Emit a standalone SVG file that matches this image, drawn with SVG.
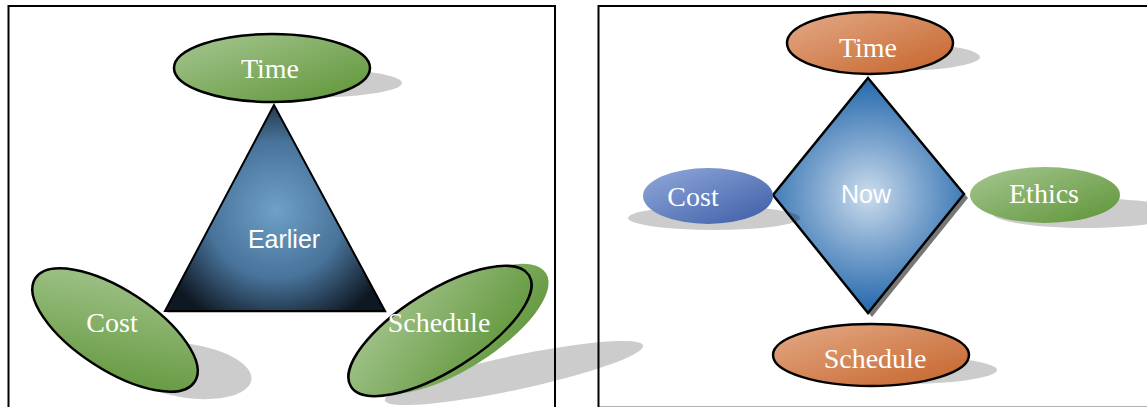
<svg xmlns="http://www.w3.org/2000/svg" width="1147" height="407" viewBox="0 0 1147 407">
<defs>
<style>
.panel{fill:none;stroke:#000;stroke-width:2}
.sh{fill:#000;fill-opacity:0.2}
.lbl{font-family:"Liberation Serif","Times New Roman",serif;font-size:28px;fill:#fff;text-anchor:middle}
.ctr{font-family:"Liberation Sans",Arial,sans-serif;font-size:25px;fill:#fff;text-anchor:middle}
.ol{stroke:#000;stroke-width:2.5}
</style>
<linearGradient id="gGreen" x1="0" y1="0" x2="1" y2="1"><stop offset="0" stop-color="#a7c792"/><stop offset="1" stop-color="#5d9436"/></linearGradient>
<linearGradient id="gOrange" x1="0" y1="0" x2="1" y2="1"><stop offset="0" stop-color="#e4ab88"/><stop offset="1" stop-color="#c5632a"/></linearGradient>
<linearGradient id="gBlue" x1="0" y1="0" x2="1" y2="1"><stop offset="0" stop-color="#93aadb"/><stop offset="1" stop-color="#3b5ca6"/></linearGradient>
<radialGradient id="gTri" gradientUnits="userSpaceOnUse" cx="276" cy="210" r="125"><stop offset="0" stop-color="#6fa0c6"/><stop offset="0.55" stop-color="#48739a"/><stop offset="1" stop-color="#0e1822"/></radialGradient>
<radialGradient id="gDia" gradientUnits="userSpaceOnUse" cx="868" cy="195" r="110"><stop offset="0" stop-color="#cbdcec"/><stop offset="0.5" stop-color="#7aa3cd"/><stop offset="1" stop-color="#2d6eb0"/></radialGradient>
</defs>
<rect width="1147" height="407" fill="#fff"/>
<g id="panels">
<rect class="panel" x="8.5" y="6" width="546.5" height="410"/>
<rect class="panel" x="598.5" y="6" width="560" height="401.7"/>
</g>
<g id="connectors"/>
<g id="left-time">
<ellipse class="sh" cx="302" cy="83" rx="100" ry="15"/>
<ellipse cx="272" cy="68" rx="98" ry="34" fill="url(#gGreen)" class="ol"/>
<text class="lbl" x="270" y="78">Time</text>
</g>
<g id="left-cost">
<ellipse class="sh" cx="188" cy="371" rx="64" ry="27" transform="rotate(8 188 371)"/>
<ellipse cx="115" cy="330" rx="95" ry="40" transform="rotate(33 115 330)" fill="url(#gGreen)" class="ol"/>
<text class="lbl" x="112" y="332">Cost</text>
</g>
<g id="left-schedule">
<ellipse class="sh" cx="514" cy="373" rx="132" ry="17" transform="rotate(-12 514 373)"/>
<ellipse cx="457" cy="329" rx="105" ry="40" transform="rotate(-32 457 329)" fill="url(#gGreen)"/>
<ellipse cx="440" cy="331" rx="105" ry="40" transform="rotate(-32 440 331)" fill="url(#gGreen)" class="ol"/>
</g>
<g id="left-earlier">
<polygon points="276,107 167,313 387,313" fill="#000" fill-opacity="0.25"/>
<polygon points="274,105 165,311 385,311" fill="url(#gTri)" stroke="#000" stroke-width="2" stroke-linejoin="miter"/>
<text class="ctr" x="284" y="248">Earlier</text>
</g>
<text class="lbl" x="439" y="332" font-size="29">Schedule</text>
<g id="right-time">
<ellipse class="sh" cx="892" cy="57" rx="88" ry="14"/>
<ellipse cx="870" cy="43" rx="83" ry="31" fill="url(#gOrange)" class="ol"/>
<text class="lbl" x="868" y="57">Time</text>
</g>
<g id="right-now">
<polygon points="872,82 968,198 872,317 777,199" fill="#555" fill-opacity="0.8"/>
<polygon points="868,78 964,194 868,313 773,195" fill="url(#gDia)" stroke="#000" stroke-width="2.5" stroke-linejoin="miter"/>
<text class="ctr" x="866" y="203">Now</text>
</g>
<g id="right-cost">
<ellipse class="sh" cx="714" cy="218" rx="86" ry="12"/>
<ellipse cx="708" cy="196" rx="65" ry="28" fill="url(#gBlue)"/>
<text class="lbl" x="693" y="206">Cost</text>
</g>
<g id="right-ethics">
<ellipse class="sh" cx="1085" cy="213" rx="93" ry="15"/>
<ellipse cx="1045" cy="195" rx="75" ry="28" fill="url(#gGreen)"/>
<text class="lbl" x="1044" y="203">Ethics</text>
</g>
<g id="right-schedule">
<ellipse class="sh" cx="900" cy="370" rx="97" ry="14"/>
<ellipse cx="871" cy="355" rx="98" ry="31" fill="url(#gOrange)" class="ol"/>
<text class="lbl" x="875" y="368">Schedule</text>
</g>
</svg>
